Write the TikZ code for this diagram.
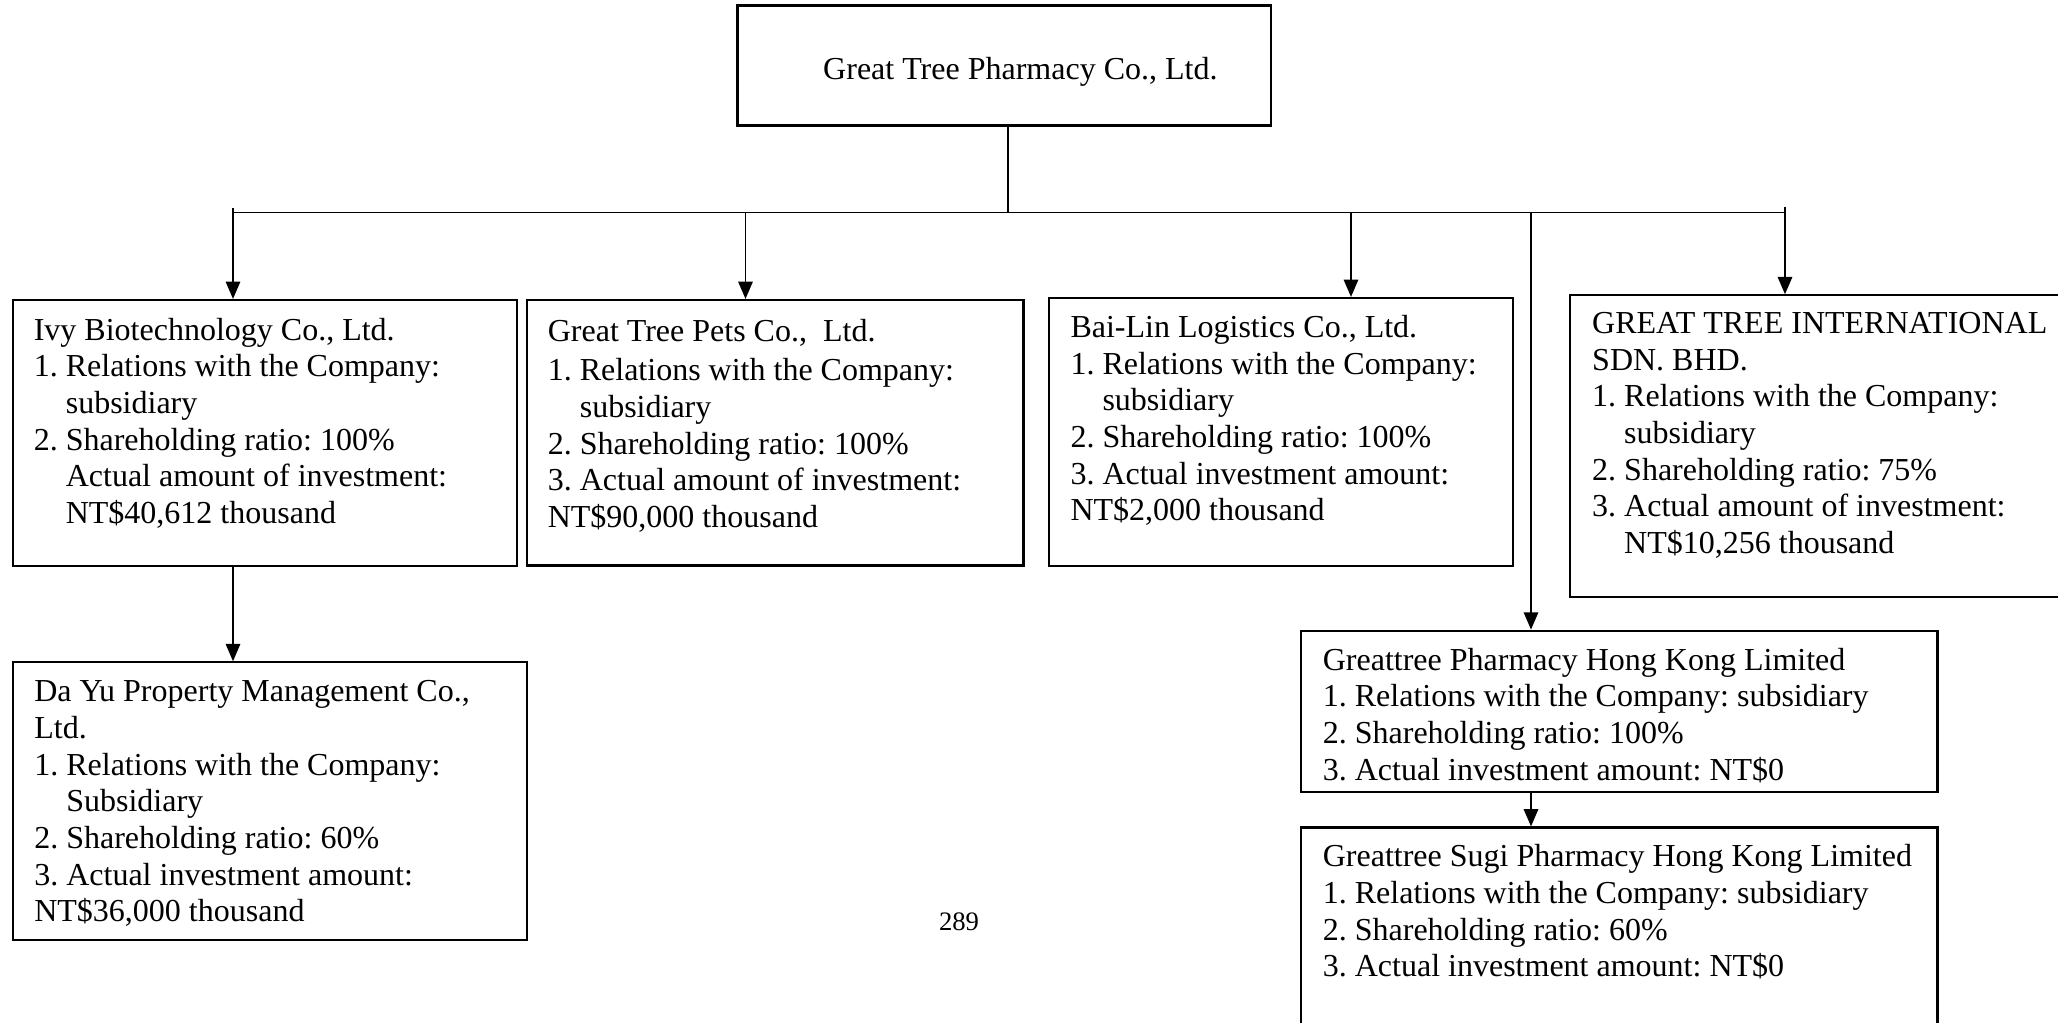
\documentclass[tikz,border=0pt]{standalone}
\usepackage{fontspec}
\setmainfont{Liberation Serif}
\usetikzlibrary{arrows.meta,fit}
\newcommand\boxlines[1]{\parbox[t]{250pt}{\raggedright\frenchspacing #1}}
\newcommand\ind{\hspace*{12pt}}
\begin{document}
\begin{tikzpicture}[x=0.375pt,y=-0.375pt,
  box/.style={draw, line width=0.8pt, inner sep=0pt},
  conn/.style={line width=0.7pt},
  arr/.style={line width=0.7pt, -{Triangle[length=6.5pt,width=5.4pt]}},
  txt/.style={inner sep=0pt, anchor=base west, font=\fontsize{12}{13.76}\selectfont}]
\fill[white] (0,0) rectangle (2058,1022);
\useasboundingbox (0,0) rectangle (2058,1022);

% boxes
\node[box, fit={(737.5,5.5) (1271,125.5)}] (top) {};
\node[box, fit={(12.7,300) (517.3,566)}] (ivy) {};
\node[box, fit={(527,300) (1023.5,565.5)}] (pets) {};
\node[box, fit={(1048.7,298) (1513.3,566)}] (bailin) {};
\node[box, fit={(1570,295.3) (2066,596.7)}] (gti) {};
\node[box, fit={(12.8,662.3) (527.4,940)}] (dayu) {};
\node[box, fit={(1301,630.7) (1937.5,792.3)}] (hk) {};
\node[box, fit={(1301,827.5) (1937.5,1032)}] (sugi) {};

% texts
\node[txt] (topt) at (822.7,79) {Great Tree Pharmacy Co., Ltd.};
\node[txt] (ivyt) at (33.3,340) {\boxlines{Ivy Biotechnology Co., Ltd.\\
1. Relations with the Company:\\
\ind subsidiary\\
2. Shareholding ratio: 100\%\\
\ind Actual amount of investment:\\
\ind NT\$40,612 thousand}};
\node[txt] (petst) at (547.3,341) {\boxlines{Great Tree Pets Co.,\ \ Ltd.\\[1.1pt]
1. Relations with the Company:\\
\ind subsidiary\\
2. Shareholding ratio: 100\%\\
3. Actual amount of investment:\\
NT\$90,000 thousand}};
\node[txt] (bailint) at (1070,337.3) {\boxlines{Bai-Lin Logistics Co., Ltd.\\
1. Relations with the Company:\\
\ind subsidiary\\
2. Shareholding ratio: 100\%\\
3. Actual investment amount:\\
NT\$2,000 thousand}};
\node[txt] (gtit) at (1591.7,333.3) {\boxlines{GREAT TREE INTERNATIONAL\\
SDN. BHD.\\
1. Relations with the Company:\\
\ind subsidiary\\
2. Shareholding ratio: 75\%\\
3. Actual amount of investment:\\
\ind NT\$10,256 thousand}};
\node[txt] (dayut) at (33.8,701.7) {\boxlines{Da Yu Property Management Co.,\\
Ltd.\\
1. Relations with the Company:\\
\ind Subsidiary\\
2. Shareholding ratio: 60\%\\
3. Actual investment amount:\\
NT\$36,000 thousand}};
\node[txt] (hkt) at (1322.3,670) {\boxlines{Greattree Pharmacy Hong Kong Limited\\
1. Relations with the Company: subsidiary\\
2. Shareholding ratio: 100\%\\
3. Actual investment amount: NT\$0}};
\node[txt] (sugit) at (1322.3,866.7) {\boxlines{Greattree Sugi Pharmacy Hong Kong Limited\\
1. Relations with the Company: subsidiary\\
2. Shareholding ratio: 60\%\\
3. Actual investment amount: NT\$0}};
\node[inner sep=0pt, anchor=base, font=\fontsize{10}{12}\selectfont] (page) at (959,930) {289};

% connector points
\coordinate (busT) at (1007.7,212.5);
\coordinate (busL) at (233,212.5);
\coordinate (busR) at (1785,212.5);
\coordinate (tickL) at (233,207.5);
\coordinate (tickR) at (1785,206.5);
\coordinate (pj) at (745.5,212.5);
\coordinate (bj) at (1351,212.5);
\coordinate (hj) at (1531,212.5);

% connectors
\draw[conn] (busT |- top.south) -- (busT);
\draw[conn] (busL) -- (busR);
\draw[arr] (tickL) -- (tickL |- ivy.north);
\draw[arr] (pj) -- (pj |- pets.north);
\draw[arr] (bj) -- (bj |- bailin.north);
\draw[arr] (hj) -- (hj |- hk.north);
\draw[arr] (tickR) -- (tickR |- gti.north);
\draw[arr] (ivy.south -| tickL) -- (dayu.north -| tickL);
\draw[arr] (hk.south -| hj) -- (sugi.north -| hj);
\end{tikzpicture}
\end{document}
